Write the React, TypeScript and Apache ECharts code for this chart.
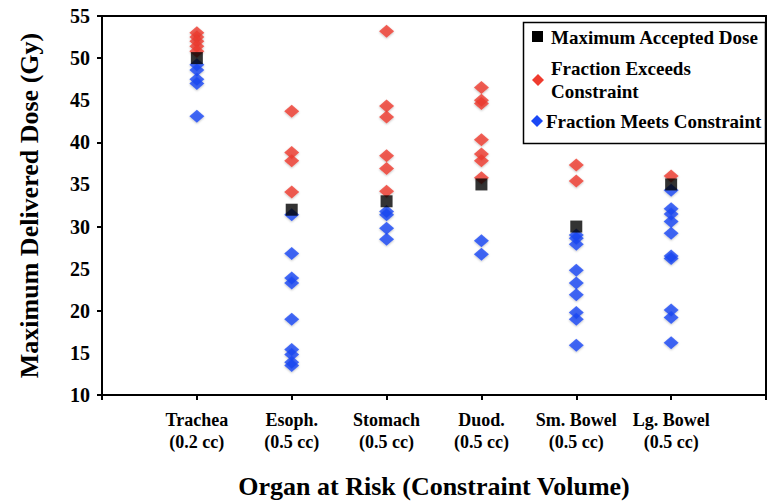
import React, { useEffect, useRef } from "react";
import * as echarts from "echarts";

const organs = ["Trachea\n(0.2 cc)", "Esoph.\n(0.5 cc)", "Stomach\n(0.5 cc)", "Duod.\n(0.5 cc)", "Sm. Bowel\n(0.5 cc)", "Lg. Bowel\n(0.5 cc)"];
const maxAccepted = [50, 32, 33, 35, 30, 35];
const exceeds = [
  [53.0, 52.5, 52.0, 51.4, 50.8],
  [43.7, 38.8, 37.8, 34.1],
  [53.2, 44.3, 43.0, 38.4, 36.9, 34.2],
  [46.5, 45.0, 44.6, 40.3, 38.6, 37.8, 35.8],
  [37.3, 35.4],
  [36.0],
];
const meets = [
  [49.2, 48.6, 47.5, 47.0, 43.1],
  [31.4, 26.8, 23.9, 23.3, 19.0, 15.4, 14.8, 13.9, 13.5],
  [31.8, 31.4, 29.8, 28.5],
  [28.3, 26.7],
  [29.0, 28.6, 27.9, 24.8, 23.3, 21.9, 19.8, 19.0, 15.9],
  [34.3, 32.1, 31.5, 30.6, 29.2, 26.5, 26.2, 20.1, 19.2, 16.2],
];
const yTicks = [10, 55, 5];

const RED = "#EF3B2E";
const BLUE = "#1A48F5";
const FONT = "'Liberation Serif', 'Times New Roman', serif";

function toPoints(groups: number[][]) {
  const out: number[][] = [];
  groups.forEach((g, i) => g.forEach((v) => out.push([i + 1, v])));
  return out;
}

export default function App() {
  const ref = useRef<HTMLDivElement>(null);
  useEffect(() => {
    if (!ref.current) return;
    const chart = echarts.init(ref.current, null, { renderer: "svg" });
    const labelStyle = { fontFamily: FONT, fontWeight: "bold" as const, color: "#000" };
    chart.setOption({
      animation: false,
      backgroundColor: "#fff",
      grid: { left: 102, right: 1, top: 16, bottom: 106, show: true, borderColor: "#000", borderWidth: 2 },
      xAxis: {
        type: "value",
        min: 0,
        max: 7,
        interval: 1,
        splitLine: { show: false },
        axisLine: { lineStyle: { color: "#000", width: 2 } },
        axisTick: { show: true, length: 5, lineStyle: { color: "#000", width: 2 } },
        axisLabel: {
          ...labelStyle,
          fontSize: 18,
          lineHeight: 22,
          margin: 14,
          formatter: (v: number) => (v >= 1 && v <= 6 ? organs[v - 1] : ""),
        },
        name: "Organ at Risk (Constraint Volume)",
        nameLocation: "middle",
        nameGap: 78,
        nameTextStyle: { ...labelStyle, fontSize: 26 },
      },
      yAxis: [
        {
          type: "value",
          min: yTicks[0],
          max: yTicks[1],
          interval: yTicks[2],
          splitLine: { show: false },
          axisLine: { lineStyle: { color: "#000", width: 2 } },
          axisTick: { show: false },
          axisLabel: { ...labelStyle, fontSize: 20, margin: 12 },
          name: "Maximum Delivered Dose (Gy)",
          nameLocation: "middle",
          nameGap: 60,
          nameTextStyle: { ...labelStyle, fontSize: 26 },
        },
        {
          type: "value",
          position: "left",
          min: 10,
          max: 55,
          interval: 10,
          splitLine: { show: false },
          axisLine: { show: false },
          axisTick: { show: true, length: 5, lineStyle: { color: "#000", width: 2 } },
          axisLabel: { show: false },
        },
      ],
      series: [
        {
          type: "scatter",
          name: "Fraction Exceeds Constraint",
          symbol: "diamond",
          symbolSize: [15, 13],
          itemStyle: { color: RED, shadowBlur: 2, shadowColor: "rgba(0,0,0,0.3)", shadowOffsetY: 1 },
          data: toPoints(exceeds),
          z: 2,
        },
        {
          type: "scatter",
          name: "Fraction Meets Constraint",
          symbol: "diamond",
          symbolSize: [15, 13],
          itemStyle: { color: BLUE, shadowBlur: 2, shadowColor: "rgba(0,0,0,0.3)", shadowOffsetY: 1 },
          data: toPoints(meets),
          z: 3,
        },
        {
          type: "scatter",
          name: "Maximum Accepted Dose",
          symbol: "rect",
          symbolSize: 12,
          itemStyle: { color: "#000" },
          data: maxAccepted.map((v, i) => [i + 1, v]),
          z: 4,
        },
      ],
      graphic: [
        {
          type: "rect",
          shape: { x: 523.5, y: 22.5, width: 242, height: 121 },
          style: { fill: "#fff", stroke: "#000", lineWidth: 1.5 },
          z: 10,
        },
        { type: "rect", shape: { x: 532, y: 31, width: 11, height: 11 }, style: { fill: "#000" }, z: 11 },
        {
          type: "text",
          x: 551,
          y: 37,
          style: { text: "Maximum Accepted Dose", font: `bold 19px ${FONT}`, fill: "#000", textVerticalAlign: "middle" },
          z: 11,
        },
        {
          type: "polygon",
          shape: { points: [[538, 74], [544, 80], [538, 86], [532, 80]] },
          style: { fill: RED },
          z: 11,
        },
        {
          type: "text",
          x: 551,
          y: 80,
          style: { text: "Fraction Exceeds\nConstraint", font: `bold 19px ${FONT}`, lineHeight: 23, fill: "#000", textVerticalAlign: "middle" },
          z: 11,
        },
        {
          type: "polygon",
          shape: { points: [[537, 115], [543, 121], [537, 127], [531, 121]] },
          style: { fill: BLUE },
          z: 11,
        },
        {
          type: "text",
          x: 546,
          y: 121,
          style: { text: "Fraction Meets Constraint", font: `bold 19px ${FONT}`, fill: "#000", textVerticalAlign: "middle" },
          z: 11,
        },
      ],
    });
    return () => chart.dispose();
  }, []);
  return <div ref={ref} style={{ position: "absolute", left: 0, top: 0, width: 769, height: 504 }} />;
}
